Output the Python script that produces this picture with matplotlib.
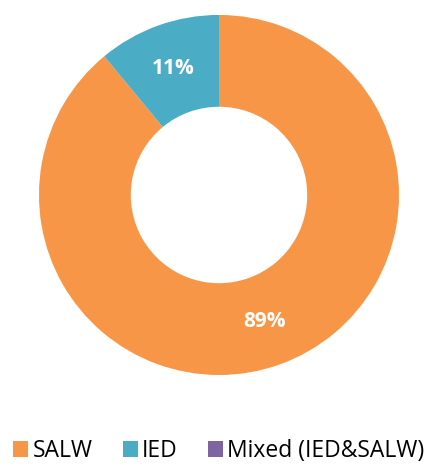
import matplotlib.pyplot as plt
from matplotlib.patches import Patch

plt.rcParams['font.family'] = ['Open Sans', 'DejaVu Sans']

labels = ['SALW', 'IED', 'Mixed (IED&SALW)']
shares = [89, 11, 0]
colors = ['#F79646', '#4BACC6', '#8064A2']

fig = plt.figure(figsize=(4.38, 4.67), dpi=100)
ax = fig.add_axes([0.089, 0.197, 0.822, 0.771])

wedges, texts, autotexts = ax.pie(
    shares, colors=colors, startangle=90, counterclock=False,
    radius=1.0, wedgeprops=dict(width=0.51, edgecolor='none'),
    autopct=lambda p: f'{p:.0f}%' if p > 0 else '', pctdistance=0.745,
    textprops=dict(color='white', fontsize=15, fontweight='bold'))
ax.set_xlim(-1, 1)
ax.set_ylim(-1, 1)
ax.set_aspect('equal')

handles = [Patch(facecolor=c, edgecolor='none') for c in colors]
fig.legend(handles, labels, loc='center', bbox_to_anchor=(0.5, 0.034),
           ncol=3, frameon=False, fontsize=16.5, handlelength=0.65,
           handleheight=0.65, handletextpad=0.2, columnspacing=1.3)

fig.savefig('out.png', dpi=100)
